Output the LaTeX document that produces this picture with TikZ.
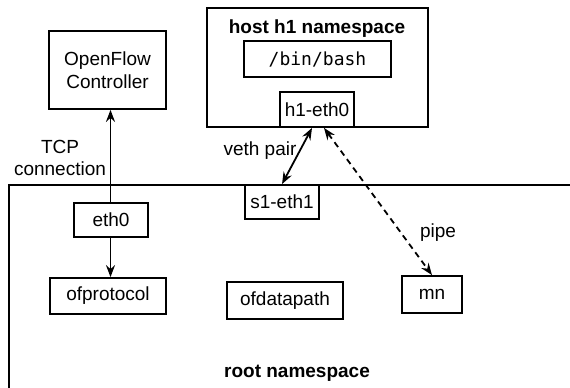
\documentclass[tikz,border=0pt]{standalone}
\usepackage{fontspec}
\setmainfont{Liberation Sans}
\setmonofont{DejaVu Sans Mono}
\usetikzlibrary{arrows.meta,calc}
\begin{document}
\begin{tikzpicture}[x=1pt,y=-1pt,
  line width=1.8pt,
  font=\fontsize{19}{22.5}\selectfont,
  box/.style={draw,rectangle,inner sep=0pt,align=center},
  lbl/.style={inner sep=0pt,align=center},
  arrowhead/.style={Stealth[length=12pt,width=9pt,inset=4pt]},
  tip/.style={-{Stealth[length=12pt,width=9pt,inset=4pt]}},
  tips/.style={{Stealth[length=12pt,width=9pt,inset=4pt]}-{Stealth[length=12pt,width=9pt,inset=4pt]}},
]
\useasboundingbox (0,0) rectangle (570,388);

% root namespace frame (open to the right and bottom)
\draw (570,185) -- (9,185) -- (9,388);
\node[lbl,font=\fontsize{19}{22.5}\selectfont\bfseries] (rootlbl) at (297,373) {root namespace};

% host h1 namespace frame
\draw (207,8) rectangle (428,127);
\node[lbl,font=\fontsize{19}{22.5}\selectfont\bfseries] (hostlbl) at (317,29) {host h1 namespace};

% boxes
\node[box,minimum width=117pt,minimum height=78pt] (ctrl) at (107.5,70) {OpenFlow\\Controller};
\node[box,minimum width=147pt,minimum height=36pt,font=\fontsize{18}{22}\ttfamily] (bash) at (317.5,59) {/bin/bash};
\node[box,minimum width=74pt,minimum height=35pt] (h1eth) at (317,109.5) {h1-eth0};
\node[box,minimum width=74pt,minimum height=34pt] (s1eth) at (282,202) {s1-eth1};
\node[box,minimum width=74pt,minimum height=34pt] (eth) at (111,220) {eth0};
\node[box,minimum width=116pt,minimum height=36pt] (ofp) at (108,296) {ofprotocol};
\node[box,minimum width=116pt,minimum height=37pt] (ofd) at (285,300.5) {ofdatapath};
\node[box,minimum width=60pt,minimum height=37pt] (mn) at (432,294.5) {mn};

% connectors
\coordinate (ethtop) at ($(eth.north)+(-0.5,0)$);
\draw[tip] (ethtop) -- (ethtop |- ctrl.south);
\coordinate (ethbot) at ($(eth.south)+(-0.5,0)$);
\draw[tip] (ethbot) -- (ethbot |- ofp.north);
\draw[tips] ($(h1eth.south)+(-5,0)$) -- (s1eth.north);
\draw[tips,dash pattern=on 6pt off 4.5pt] ($(h1eth.south)+(7,0)$) -- (mn.north);

% labels
\node[lbl] (tcp) at (60,158) {TCP\\connection};
\node[lbl] (veth) at (260,151) {veth pair};
\node[lbl] (pipe) at (438,233) {pipe};
\end{tikzpicture}
\end{document}
